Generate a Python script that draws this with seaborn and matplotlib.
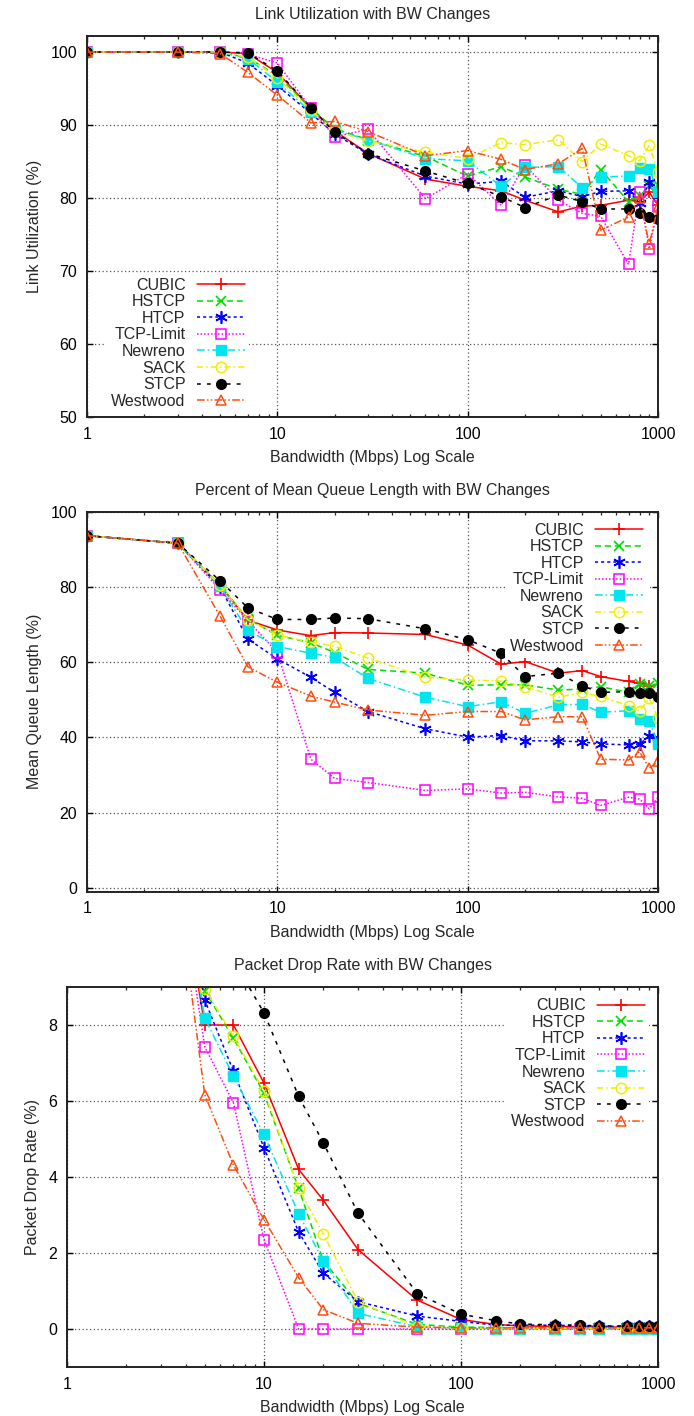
import numpy as np
import pandas as pd
import matplotlib
matplotlib.use("Agg")
import matplotlib.pyplot as plt
import seaborn as sns
from matplotlib.ticker import LogLocator, NullFormatter, FixedLocator, FixedFormatter

sns.set_style("ticks")
plt.rcParams['font.family'] = ['Liberation Sans', 'DejaVu Sans']

bandwidth = [1, 3, 5, 7, 10, 15, 20, 30, 60, 100, 150, 200, 300, 400, 500, 700, 800, 900, 1000]
protocols = ["CUBIC", "HSTCP", "HTCP", "TCP-Limit", "Newreno", "SACK", "STCP", "Westwood"]
xtick_values = [1, 10, 100, 1000]
xtick_labels = ["1", "10", "100", "1000"]

# Panel 1: link utilization (%)
util_cubic = [100, 100, 100, 99.8, 97.2, 92.3, 89.2, 86.1, 82.6, 81.6, 81.0, 79.7, 78.1, 78.9, 79.0, 79.7, 79.5, 80.8, 79.0]
util_hstcp = [100, 100, 100, 99.2, 96.8, 92.3, 89.5, 88.0, 85.7, 83.0, 84.3, 82.9, 81.2, 80.5, 83.9, 79.5, 80.3, 81.6, 81.8]
util_htcp = [100, 100, 100, 98.5, 95.4, 91.6, 88.8, 86.0, 83.0, 81.9, 82.3, 80.1, 81.0, 80.2, 80.9, 81.0, 79.3, 82.2, 80.4]
util_tcplimit = [100, 100, 100, 99.7, 98.5, 92.3, 88.4, 89.4, 79.9, 83.3, 79.0, 84.5, 79.7, 77.9, 77.5, 70.9, 80.8, 73.0, 78.9]
util_newreno = [100, 100, 100, 99.1, 95.9, 91.8, 89.3, 88.0, 85.4, 85.1, 81.6, 84.2, 84.3, 81.4, 82.9, 83.0, 84.1, 84.0, 80.8]
util_sack = [100, 100, 100, 99.3, 96.5, 92.0, 89.2, 87.8, 86.3, 85.4, 87.6, 87.3, 88.0, 85.0, 87.4, 85.8, 85.1, 87.2, 83.5]
util_stcp = [100, 100, 100, 99.9, 97.4, 92.4, 89.0, 86.1, 83.7, 82.0, 80.2, 78.7, 80.4, 79.5, 78.5, 78.5, 78.0, 77.4, 77.1]
util_westwood = [100, 100, 99.8, 97.2, 94.1, 90.3, 90.5, 89.1, 85.8, 86.5, 85.3, 83.9, 84.7, 86.8, 75.6, 77.4, 80.0, 73.7, 78.8]

# Panel 2: mean queue length (%)
queue_cubic = [93.7, 91.7, 80.5, 71.2, 68.6, 67.1, 67.9, 67.8, 67.4, 64.6, 59.5, 60.2, 57.1, 57.8, 56.2, 54.9, 54.4, 53.7, 51.2]
queue_hstcp = [93.7, 91.7, 80.5, 71.5, 67.2, 65.2, 62.6, 58.1, 57.1, 53.9, 54.0, 54.0, 52.6, 52.9, 53.5, 52.0, 54.3, 53.6, 54.4]
queue_htcp = [93.7, 91.7, 80.0, 66.2, 60.9, 56.0, 52.0, 46.9, 42.3, 40.1, 40.5, 39.1, 39.1, 38.8, 38.3, 38.0, 38.3, 40.3, 39.8]
queue_tcplimit = [93.7, 91.7, 79.3, 71.1, 62.6, 34.2, 29.1, 28.0, 25.9, 26.3, 25.2, 25.4, 24.2, 23.8, 21.9, 24.1, 23.6, 21.0, 24.1]
queue_newreno = [93.7, 91.7, 80.2, 68.5, 64.2, 62.4, 61.3, 55.7, 50.7, 48.2, 49.5, 46.4, 48.7, 48.8, 46.7, 47.1, 44.8, 44.4, 38.2]
queue_sack = [93.7, 91.7, 80.5, 71.3, 67.3, 65.3, 64.3, 61.1, 56.0, 55.3, 55.0, 53.5, 50.7, 52.0, 50.9, 48.5, 47.1, 50.4, 45.1]
queue_stcp = [93.7, 91.7, 81.7, 74.5, 71.4, 71.4, 71.8, 71.6, 68.9, 66.0, 62.4, 56.2, 57.1, 53.7, 52.0, 52.2, 51.8, 51.8, 50.7]
queue_westwood = [93.7, 91.7, 72.3, 58.8, 54.7, 51.0, 49.4, 47.3, 45.9, 46.9, 46.9, 44.7, 45.5, 45.5, 34.2, 34.0, 36.2, 31.8, 33.6]

# Panel 3: packet drop rate (%)  (values at 1 and 3 Mbps lie above the plotted range)
drop_cubic = [25, 15, 8.0, 8.0, 6.47, 4.2, 3.39, 2.09, 0.76, 0.25, 0.12, 0.08, 0.07, 0.06, 0.05, 0.05, 0.05, 0.05, 0.05]
drop_hstcp = [25, 15, 8.9, 7.65, 6.2, 3.7, 1.8, 0.68, 0.12, 0.05, 0.04, 0.03, 0.03, 0.03, 0.03, 0.03, 0.03, 0.03, 0.03]
drop_htcp = [25, 15, 8.66, 6.78, 4.77, 2.55, 1.47, 0.72, 0.34, 0.2, 0.1, 0.1, 0.1, 0.08, 0.07, 0.07, 0.07, 0.07, 0.07]
drop_tcplimit = [25, 15, 7.43, 5.95, 2.35, 0.0, 0.0, 0.0, 0.0, 0.0, 0.0, 0.0, 0.0, 0.0, 0.0, 0.0, 0.0, 0.0, 0.0]
drop_newreno = [25, 15, 8.19, 6.65, 5.12, 3.03, 1.79, 0.41, 0.06, 0.02, 0.01, 0.0, 0.0, 0.0, 0.0, 0.0, 0.0, 0.0, 0.0]
drop_sack = [25, 15, 8.96, 7.7, 6.26, 3.7, 2.5, 0.72, 0.06, 0.03, 0.02, 0.02, 0.02, 0.02, 0.02, 0.02, 0.02, 0.02, 0.02]
drop_stcp = [40, 25, 14, 9.7, 8.32, 6.12, 4.9, 3.05, 0.93, 0.39, 0.22, 0.13, 0.11, 0.1, 0.08, 0.08, 0.08, 0.08, 0.07]
drop_westwood = [25, 15, 6.17, 4.31, 2.88, 1.35, 0.51, 0.15, 0.05, 0.03, 0.03, 0.03, 0.03, 0.03, 0.03, 0.03, 0.03, 0.03, 0.03]

util = [util_cubic, util_hstcp, util_htcp, util_tcplimit, util_newreno, util_sack, util_stcp, util_westwood]
queue = [queue_cubic, queue_hstcp, queue_htcp, queue_tcplimit, queue_newreno, queue_sack, queue_stcp, queue_westwood]
drop = [drop_cubic, drop_hstcp, drop_htcp, drop_tcplimit, drop_newreno, drop_sack, drop_stcp, drop_westwood]

styles = {
    "CUBIC":     dict(color="#ff0000", ls="-",                      marker="+", mfc="none", ms=9, mew=1.2),
    "HSTCP":     dict(color="#00dd00", ls=(0, (4, 2.5)),            marker="x", mfc="none", ms=7, mew=1.2),
    "HTCP":      dict(color="#0000ff", ls=(0, (2, 2)),              marker=(6, 2, 0), mfc="none", ms=9, mew=1.2),
    "TCP-Limit": dict(color="#ff00ff", ls=(0, (1, 1.3)),            marker="s", mfc="none", ms=7, mew=1.1),
    "Newreno":   dict(color="#00e5ee", ls=(0, (5, 2, 1, 2)),        marker="s", mfc="#00e5ee", ms=7, mew=1.0),
    "SACK":      dict(color="#f0ee00", ls=(0, (4, 2, 1, 2)),        marker="o", mfc="none", ms=7.5, mew=1.1),
    "STCP":      dict(color="#000000", ls=(0, (2.5, 4)),            marker="o", mfc="#000000", ms=7, mew=1.0),
    "Westwood":  dict(color="#ff4d10", ls=(0, (5, 1.5, 1, 1.5, 1, 1.5)), marker="^", mfc="none", ms=7, mew=1.1),
}

W, H = 694, 1416
fig = plt.figure(figsize=(W / 100, H / 100), dpi=100)

def axbox(l, r, t, b):
    return [l / W, 1 - b / H, (r - l) / W, (b - t) / H]

ax1 = fig.add_axes(axbox(87, 658, 36, 417))
ax2 = fig.add_axes(axbox(87, 658, 512, 891.5))
ax3 = fig.add_axes(axbox(67, 658, 987, 1367))

FS = 11.5

def draw(ax, series, title, ylabel, ylim, yticks, legend_loc, legend_anchor):
    for name, vals in zip(protocols, series):
        st = styles[name]
        df = pd.DataFrame({"bw": bandwidth, "v": vals})
        sns.lineplot(data=df, x="bw", y="v", ax=ax, color=st["color"], linestyle=st["ls"],
                     marker=st["marker"], markerfacecolor=st["mfc"], markeredgecolor=st["color"],
                     markersize=st["ms"], markeredgewidth=st["mew"], linewidth=1.1,
                     label=name, estimator=None, sort=False)
    ax.set_xscale("log")
    ax.set_xlim(1, 1000)
    ax.set_ylim(*ylim)
    ax.xaxis.set_major_locator(FixedLocator(xtick_values))
    ax.xaxis.set_major_formatter(FixedFormatter(xtick_labels))
    ax.xaxis.set_minor_locator(LogLocator(base=10, subs=np.arange(2, 10)))
    ax.xaxis.set_minor_formatter(NullFormatter())
    ax.set_yticks(yticks)
    ax.set_yticklabels([str(t) for t in yticks])
    ax.tick_params(axis="both", which="major", direction="in", length=4.5, width=1.0,
                   top=True, right=True, labelsize=FS, pad=7, colors="black")
    ax.tick_params(axis="x", which="minor", direction="in", length=2.5, width=0.9, top=True, bottom=True)
    ax.tick_params(axis="x", which="major", pad=7)
    ax.grid(True, which="major", color="#555555", linestyle=(0, (1, 2)), linewidth=0.9)
    ax.set_axisbelow(True)
    for s in ax.spines.values():
        s.set_linewidth(1.4)
        s.set_color("#222222")
    ax.set_title(title, fontsize=FS, pad=12)
    ax.set_xlabel("Bandwidth (Mbps) Log Scale", fontsize=FS, labelpad=6)
    ax.set_ylabel(ylabel, fontsize=FS, labelpad=6)
    leg = ax.legend(loc=legend_loc, bbox_to_anchor=legend_anchor, markerfirst=False, fontsize=FS,
                    handlelength=3.0, handletextpad=0.7, labelspacing=0.1, borderpad=0.3,
                    frameon=True, fancybox=False, framealpha=1.0, numpoints=1)
    leg.get_frame().set_edgecolor("none")
    leg.get_frame().set_facecolor("white")

draw(ax1, util, "Link Utilization with BW Changes", "Link Utilization (%)",
     (50, 102.2), [50, 60, 70, 80, 90, 100], "lower left", (0.02, -0.012))
draw(ax2, queue, "Percent of Mean Queue Length with BW Changes", "Mean Queue Length (%)",
     (-1, 100), [0, 20, 40, 60, 80, 100], "upper right", (0.996, 1.006))
draw(ax3, drop, "Packet Drop Rate with BW Changes", "Packet Drop Rate (%)",
     (-1, 9), [0, 2, 4, 6, 8], "upper right", (0.999, 1.004))

fig.savefig("out.png", dpi=100)
